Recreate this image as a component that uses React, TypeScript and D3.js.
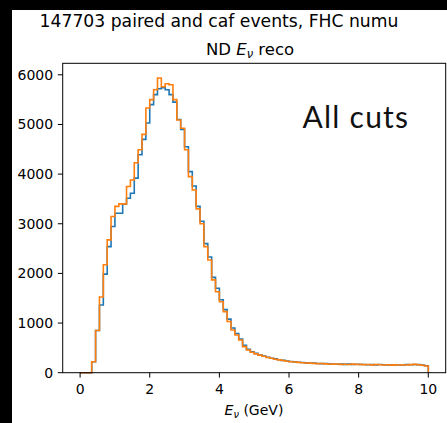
import React from "react";
import * as d3 from "d3";

const W = 447;
const H = 423;

// 90 bins from 0 to 10 GeV
const binEdges: number[] = d3.range(91).map((i) => (i * 10) / 90);

const orangeCounts: number[] = [
  0, 0, 0, 222, 850, 1525, 2175, 2675, 3145, 3350,
  3400, 3400, 3750, 3880, 4230, 4490, 4800, 5330, 5500, 5700,
  5935, 5760, 5820, 5800, 5500, 5090, 4925, 4490, 3950, 3680,
  3300, 3000, 2540, 2270, 1870, 1630, 1430, 1230, 1030, 860,
  760, 660, 525, 457, 411, 380, 355, 330, 305, 290,
  272, 258, 245, 232, 222, 215, 208, 200, 196, 192,
  188, 182, 185, 178, 176, 172, 175, 168, 170, 166,
  172, 165, 168, 160, 164, 158, 162, 160, 156, 160,
  152, 158, 155, 160, 156, 162, 168, 160, 150, 135,
];

const blueCounts: number[] = [
  0, 0, 0, 222, 850, 1365, 1985, 2540, 2945, 3212,
  3212, 3400, 3515, 3615, 3920, 4390, 4700, 5030, 5400, 5600,
  5720, 5740, 5700, 5600, 5450, 5100, 4900, 4550, 4050, 3760,
  3350, 3050, 2600, 2330, 1920, 1700, 1470, 1270, 1080, 900,
  790, 680, 550, 470, 420, 390, 360, 335, 310, 292,
  278, 262, 248, 236, 226, 218, 210, 204, 198, 194,
  192, 186, 182, 184, 178, 176, 170, 174, 168, 172,
  166, 170, 164, 166, 160, 162, 158, 164, 160, 156,
  160, 154, 160, 158, 164, 160, 166, 162, 152, 140,
];

const xTicks: number[] = [0, 2, 4, 6, 8, 10];
const yTicks: number[] = [0, 1000, 2000, 3000, 4000, 5000, 6000];

const suptitle = "147703 paired and caf events, FHC numu";
const annotation = "All cuts";

const BLUE = "#1f77b4";
const ORANGE = "#ff7f0e";
const FONT = "'DejaVu Sans', sans-serif";

function stepPath(counts: number[], x: d3.ScaleLinear<number, number>, y: d3.ScaleLinear<number, number>) {
  const pts: [number, number][] = [[binEdges[0], 0]];
  counts.forEach((v, i) => {
    pts.push([binEdges[i], v]);
    pts.push([binEdges[i + 1], v]);
  });
  pts.push([binEdges[binEdges.length - 1], 0]);
  const line = d3
    .line<[number, number]>()
    .x((d) => x(d[0]))
    .y((d) => y(d[1]));
  return line(pts) || "";
}

export default function App() {
  const left = 62.7;
  const right = 445.7;
  const top = 63.3;
  const bottom = 372.7;

  const maxVal = Math.max(d3.max(orangeCounts) || 0, d3.max(blueCounts) || 0);
  const x = d3.scaleLinear().domain([-0.5, 10.5]).range([left, right]);
  const y = d3.scaleLinear().domain([0, maxVal * 1.05]).range([bottom, top]);

  const tickLen = 4.9;
  const fs = 14;

  return (
    <svg
      width={W}
      height={H}
      style={{ position: "absolute", left: 0, top: 0, background: "#fff" }}
    >
      <rect x={0} y={0} width={W} height={H} fill="#fff" />
      <rect x={0} y={0} width={W} height={10} fill="#000" />
      <rect x={0} y={0} width={12} height={H} fill="#000" />

      <text x={219} y={27} fontFamily={FONT} fontSize={17.2} textAnchor="middle" fill="#000">
        {suptitle}
      </text>
      <text x={250} y={55} fontFamily={FONT} fontSize={16.5} textAnchor="middle" fill="#000">
        ND{" "}
        <tspan fontStyle="italic">E</tspan>
        <tspan fontStyle="italic" fontSize={11.5} dy={3}>ν</tspan>
        <tspan dy={-3}> reco</tspan>
      </text>

      <path d={stepPath(blueCounts, x, y)} fill="none" stroke={BLUE} strokeWidth={1.6} strokeLinejoin="miter" />
      <path d={stepPath(orangeCounts, x, y)} fill="none" stroke={ORANGE} strokeWidth={1.6} strokeLinejoin="miter" />

      <rect x={left} y={top} width={right - left} height={bottom - top} fill="none" stroke="#000" strokeWidth={1} />

      {xTicks.map((t) => (
        <g key={"x" + t}>
          <line x1={x(t)} x2={x(t)} y1={bottom} y2={bottom + tickLen} stroke="#000" strokeWidth={1} />
          <text x={x(t)} y={394} fontFamily={FONT} fontSize={fs} textAnchor="middle" fill="#000">
            {t}
          </text>
        </g>
      ))}
      {yTicks.map((t) => (
        <g key={"y" + t}>
          <line x1={left - tickLen} x2={left} y1={y(t)} y2={y(t)} stroke="#000" strokeWidth={1} />
          <text
            x={left - tickLen - 4.6}
            y={y(t)}
            dy="0.36em"
            fontFamily={FONT}
            fontSize={fs}
            textAnchor="end"
            fill="#000"
          >
            {t}
          </text>
        </g>
      ))}

      <text x={254} y={415} fontFamily={FONT} fontSize={fs} textAnchor="middle" fill="#000">
        <tspan fontStyle="italic">E</tspan>
        <tspan fontStyle="italic" fontSize={9.8} dy={2.5}>ν</tspan>
        <tspan dy={-2.5}> (GeV)</tspan>
      </text>

      <text
        x={302.5}
        y={128.3}
        fontFamily="Lato, 'Open Sans', sans-serif"
        fontWeight={400}
        fontSize={30}
        textLength={105.6}
        lengthAdjust="spacing"
        fill="#111"
      >
        {annotation}
      </text>
    </svg>
  );
}
